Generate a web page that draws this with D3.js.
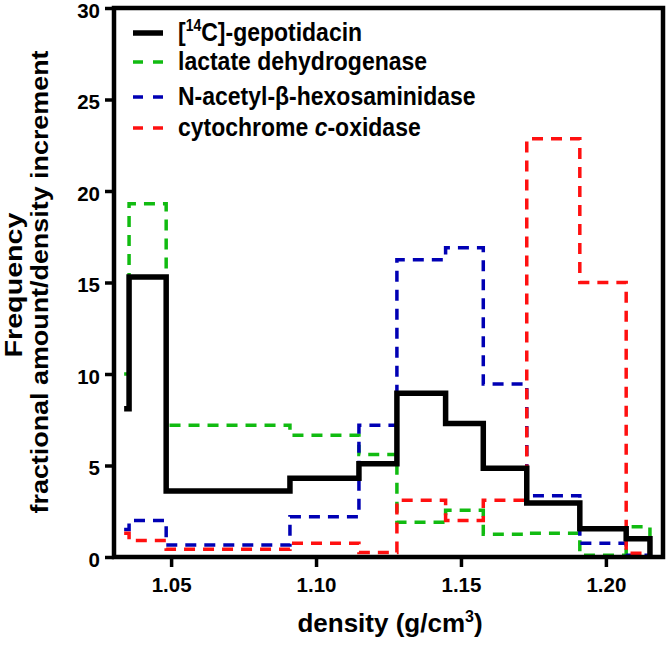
<!DOCTYPE html>
<html><head><meta charset="utf-8">
<script src="https://cdn.jsdelivr.net/npm/d3@7/dist/d3.min.js"></script>
<style>body{margin:0;background:#fff} text{font-family:"Liberation Sans",Arial,sans-serif;font-weight:bold;fill:#000}</style>
</head><body><svg id="c" width="666" height="645"></svg>
<script>
// bin edges (density, g/cm3)
const edges = [1.0338, 1.0355, 1.0483, 1.0910, 1.1148, 1.1279, 1.1447, 1.1577, 1.1727, 1.1910, 1.2070, 1.2152];
const gepotidacin = [8.1, 15.3, 3.6, 4.3, 5.1, 8.95, 7.3, 4.85, 2.95, 1.55, 1.0];
const lactateDH   = [10.0, 19.3, 7.2, 6.65, 5.6, 1.9, 2.55, 1.25, 1.3, 0.1, 1.65];
const hexosaminidase = [1.5, 2.0, 0.65, 2.2, 7.2, 16.25, 16.9, 9.45, 3.35, 0.75, 0.1];
const cytochrome  = [1.3, 0.9, 0.42, 0.75, 0.25, 3.1, 2.0, 3.1, 22.85, 15.0, 0.2];
const xTicks = [1.05, 1.10, 1.15, 1.20];
const yTicks = [0, 5, 10, 15, 20, 25, 30];

const series = [
  {name: "lactate dehydrogenase", values: lactateDH, color: "#11bb11", dash: "11,8", width: 3.5},
  {name: "N-acetyl-β-hexosaminidase", values: hexosaminidase, color: "#0000b4", dash: "11,8", width: 3.5},
  {name: "cytochrome c-oxidase", values: cytochrome, color: "#ff1010", dash: "11,8", width: 3.5},
  {name: "[14C]-gepotidacin", values: gepotidacin, color: "#000000", dash: null, width: 5.5}
];

const svg = d3.select("#c");
const L = 114, R = 663, T = 8, B = 557;
const x = d3.scaleLinear().domain([1.0303, 1.2197]).range([L, R]);
const y = d3.scaleLinear().domain([0, 30]).range([B, T]);

function pts(vals) {
  const p = [];
  vals.forEach((v, i) => { p.push([edges[i], v]); p.push([edges[i + 1], v]); });
  p.push([edges[edges.length - 1], 0]);
  return p;
}
const line = d3.line().x(d => x(d[0])).y(d => y(d[1]));

series.forEach(s => {
  svg.append("path").attr("d", line(pts(s.values)))
    .attr("fill", "none").attr("stroke", s.color).attr("stroke-width", s.width)
    .attr("stroke-dasharray", s.dash).attr("stroke-linejoin", "miter");
});

// frame
svg.append("rect").attr("x", L).attr("y", T).attr("width", R - L).attr("height", B - T)
  .attr("fill", "none").attr("stroke", "#000").attr("stroke-width", 4.5);

// axes
const yAxis = svg.append("g").attr("transform", `translate(${L},0)`)
  .call(d3.axisLeft(y).tickValues(yTicks).tickSize(9).tickPadding(5).tickFormat(d3.format("d")));
yAxis.selectAll(".tick text").attr("dy", "0.45em");
const xAxis = svg.append("g").attr("transform", `translate(0,${B})`)
  .call(d3.axisBottom(x).tickValues(xTicks).tickSize(10).tickPadding(10).tickFormat(d3.format(".2f")));
[yAxis, xAxis].forEach(g => {
  g.select(".domain").remove();
  g.selectAll(".tick line").attr("stroke", "#000").attr("stroke-width", 3.5);
  g.selectAll(".tick text").style("font-size", "20.5px").attr("fill", "#000");
});

// axis titles
const xt = svg.append("text").attr("x", 390).attr("y", 632).attr("text-anchor", "middle").style("font-size", "26px");
xt.append("tspan").text("density (g/cm");
xt.append("tspan").attr("dy", -10).style("font-size", "16px").text("3");
xt.append("tspan").attr("dy", 10).text(")");

svg.append("text").attr("transform", `translate(22,285) rotate(-90)`)
  .attr("text-anchor", "middle").style("font-size", "23px")
  .attr("textLength", 145).attr("lengthAdjust", "spacingAndGlyphs").text("Frequency");
svg.append("text").attr("transform", `translate(48,282) rotate(-90)`)
  .attr("text-anchor", "middle").style("font-size", "23px")
  .attr("textLength", 463).attr("lengthAdjust", "spacingAndGlyphs").text("fractional amount/density increment");

// legend
const legY = [33, 62, 97, 128];
const legOrder = [3, 0, 1, 2];
legOrder.forEach((si, k) => {
  const s = series[si];
  const g = svg.append("g").attr("transform", `translate(0,${legY[k]})`);
  g.append("line").attr("x1", 133).attr("x2", 163).attr("y1", 0).attr("y2", 0)
    .attr("stroke", s.color).attr("stroke-width", s.dash ? 3.5 : 5.5).attr("stroke-dasharray", s.dash ? "10,10" : null);
  const t = g.append("text").attr("transform", "translate(178,8) scale(1,1.15)").style("font-size", "23px");
  if (si === 3) {
    t.append("tspan").text("[");
    t.append("tspan").attr("dy", -9).style("font-size", "14px").text("14");
    t.append("tspan").attr("dy", 9).text("C]-gepotidacin");
  } else if (si === 2) {
    t.append("tspan").text("cytochrome ");
    t.append("tspan").style("font-style", "italic").text("c");
    t.append("tspan").text("-oxidase");
  } else {
    t.text(s.name);
  }
});
</script></body></html>
